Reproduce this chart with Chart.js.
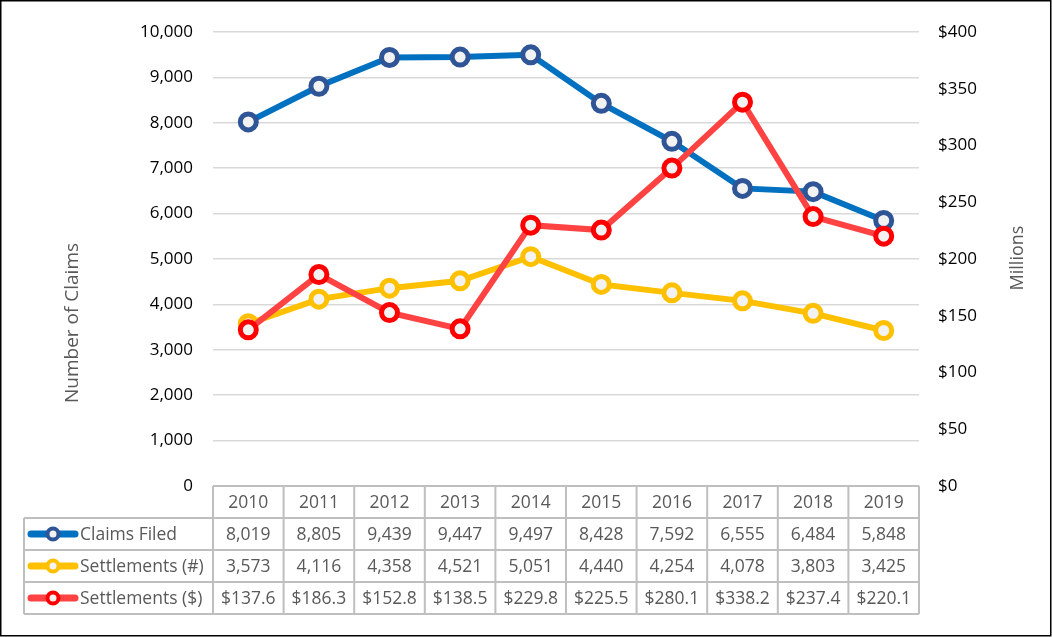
<!DOCTYPE html>
<html>
<head>
<meta charset="utf-8">
<script src="https://cdn.jsdelivr.net/npm/chart.js"></script>
<style>
  html, body { margin: 0; padding: 0; background: #fff; }
  #wrap { width: 1052px; height: 637px; position: relative; }
</style>
</head>
<body>
<div id="wrap"><canvas id="chart" width="1052" height="637"></canvas></div>
<script>
const years = ['2010', '2011', '2012', '2013', '2014', '2015', '2016', '2017', '2018', '2019'];
const claimsFiled = [8019, 8805, 9439, 9447, 9497, 8428, 7592, 6555, 6484, 5848];
const settlementsCount = [3573, 4116, 4358, 4521, 5051, 4440, 4254, 4078, 3803, 3425];
const settlementsDollars = [137.6, 186.3, 152.8, 138.5, 229.8, 225.5, 280.1, 338.2, 237.4, 220.1];

const FONT = '"Open Sans", "DejaVu Sans", sans-serif';
const fmtCount = v => v.toLocaleString('en-US');
const fmtDollar = v => '$' + v.toFixed(1);

// rows of the data table under the plot (label, values, formatter, dataset index)
const tableRows = [
    {label: 'Claims Filed', values: claimsFiled, fmt: fmtCount, ds: 2},
    {label: 'Settlements (#)', values: settlementsCount, fmt: fmtCount, ds: 1},
    {label: 'Settlements ($)', values: settlementsDollars, fmt: fmtDollar, ds: 0}
];

const ROW_H = 32;
const TABLE_LEFT = 24;

const tablePlugin = {
    id: 'dataTable',
    afterDraw(chart) {
        const {ctx, chartArea, scales} = chart;
        const x = scales.x;
        const half = (x.getPixelForValue(1) - x.getPixelForValue(0)) / 2;
        const top = chartArea.bottom;
        const left = chartArea.left, right = chartArea.right;
        const bottom = top + ROW_H * (tableRows.length + 1);

        ctx.save();
        ctx.strokeStyle = '#BFBFBF';
        ctx.lineWidth = 2;
        ctx.beginPath();
        // header top + horizontal lines
        ctx.moveTo(left, top); ctx.lineTo(right, top);
        for (let r = 1; r <= tableRows.length + 1; r++) {
            const y = top + r * ROW_H;
            ctx.moveTo(TABLE_LEFT, y); ctx.lineTo(right, y);
        }
        // column lines
        years.forEach((yr, i) => {
            const cx = x.getPixelForValue(i) - half;
            ctx.moveTo(cx, top); ctx.lineTo(cx, bottom);
        });
        ctx.moveTo(right, top); ctx.lineTo(right, bottom);
        ctx.moveTo(TABLE_LEFT, top + ROW_H); ctx.lineTo(TABLE_LEFT, bottom);
        ctx.stroke();

        ctx.font = '17.5px ' + FONT;
        ctx.fillStyle = '#595959';
        ctx.textAlign = 'center';
        ctx.textBaseline = 'middle';
        years.forEach((yr, i) => {
            ctx.fillText(yr, x.getPixelForValue(i), top + ROW_H / 2 + 1);
        });
        tableRows.forEach((row, r) => {
            const cy = top + ROW_H * (r + 1) + ROW_H / 2 + 1;
            row.values.forEach((v, i) => {
                ctx.fillText(row.fmt(v), x.getPixelForValue(i), cy);
            });
            // legend key
            const ds = chart.data.datasets[row.ds];
            ctx.strokeStyle = ds.borderColor;
            ctx.lineWidth = 7;
            ctx.lineCap = 'round';
            ctx.beginPath();
            ctx.moveTo(31, cy - 1); ctx.lineTo(75, cy - 1);
            ctx.stroke();
            ctx.beginPath();
            ctx.arc(53, cy - 1, 5.5, 0, Math.PI * 2);
            ctx.fillStyle = ds.pointBackgroundColor;
            ctx.fill();
            ctx.lineWidth = 4;
            ctx.strokeStyle = ds.pointBorderColor;
            ctx.stroke();
            ctx.fillStyle = '#595959';
            ctx.textAlign = 'left';
            ctx.fillText(row.label, 80, cy);
            ctx.textAlign = 'center';
        });

        // axis titles
        ctx.fillStyle = '#595959';
        ctx.font = '19px ' + FONT;
        ctx.save();
        ctx.translate(73, 323);
        ctx.rotate(-Math.PI / 2);
        ctx.fillText('Number of Claims', 0, 0);
        ctx.restore();
        ctx.font = '18px ' + FONT;
        ctx.save();
        ctx.translate(1018, 258);
        ctx.rotate(-Math.PI / 2);
        ctx.fillText('Millions', 0, 0);
        ctx.restore();

        // outer frame
        ctx.strokeStyle = '#000';
        ctx.lineWidth = 1.5;
        ctx.strokeRect(0.75, 0.75, 1050, 635);
        ctx.restore();
    }
};

new Chart(document.getElementById('chart').getContext('2d'), {
    type: 'line',
    data: {
        labels: years,
        datasets: [
            {
                label: 'Settlements ($)',
                data: settlementsDollars,
                yAxisID: 'y2',
                borderColor: '#FF4343',
                pointBorderColor: '#FF0000',
                pointBackgroundColor: '#F2F2F2',
                order: 1
            },
            {
                label: 'Settlements (#)',
                data: settlementsCount,
                yAxisID: 'y',
                borderColor: '#FFC000',
                pointBorderColor: '#FFC000',
                pointBackgroundColor: '#F2F2F2',
                order: 2
            },
            {
                label: 'Claims Filed',
                data: claimsFiled,
                yAxisID: 'y',
                borderColor: '#0070C0',
                pointBorderColor: '#2F5597',
                pointBackgroundColor: '#F2F2F2',
                order: 3
            }
        ]
    },
    options: {
        responsive: false,
        animation: false,
        devicePixelRatio: 1,
        layout: {padding: {top: 32, bottom: 151, left: 0, right: 0}},
        elements: {
            line: {borderWidth: 6, tension: 0},
            point: {radius: 8, borderWidth: 5, hoverRadius: 8}
        },
        plugins: {
            legend: {display: false},
            title: {display: false},
            tooltip: {enabled: false}
        },
        scales: {
            x: {
                display: false,
                offset: true
            },
            y: {
                position: 'left',
                min: 0,
                max: 10000,
                afterFit: s => { s.width = 213; },
                ticks: {
                    stepSize: 1000,
                    padding: 20,
                    color: '#000',
                    font: {family: FONT, size: 17},
                    callback: v => v.toLocaleString('en-US')
                },
                grid: {color: '#D9D9D9', lineWidth: 1.5, drawTicks: false},
                border: {display: false}
            },
            y2: {
                position: 'right',
                min: 0,
                max: 400,
                afterFit: s => { s.width = 133; },
                ticks: {
                    stepSize: 50,
                    padding: 19,
                    color: '#000',
                    font: {family: FONT, size: 17},
                    callback: v => '$' + v
                },
                grid: {display: false, drawTicks: false},
                border: {display: false}
            }
        }
    },
    plugins: [tablePlugin]
});
</script>
</body>
</html>
